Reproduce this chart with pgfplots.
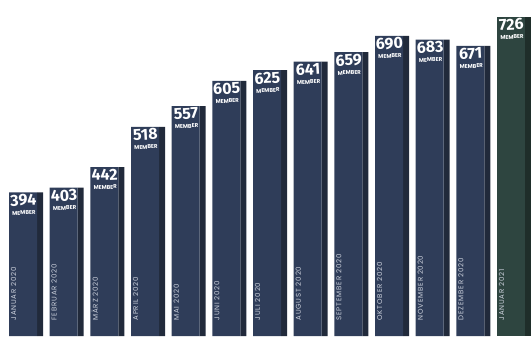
\documentclass[border=0pt]{standalone}
\usepackage{pgfplots}
\pgfplotsset{compat=1.18}
\usepackage{fontspec}
\setmainfont{Poppins}
\newfontfamily\numfont{Fira Sans}
\definecolor{front}{HTML}{2F3D59}
\definecolor{side}{HTML}{212A3B}
\definecolor{gfront}{HTML}{2E4540}
\definecolor{gside}{HTML}{1F2E2A}
\definecolor{monthtxt}{HTML}{CDD2DD}
\begin{document}
\begin{tikzpicture}
\begin{axis}[
  scale only axis,
  width=531pt, height=336pt,
  xmin=-0.5655, xmax=12.49,
  ymin=122.6, ymax=757.7,
  axis on top,
  /pgf/number format/assume math mode=true,
  axis line style={draw=none},
  tick style={draw=none},
  ytick=\empty,
  xtick={0,...,12},
  xticklabels={JANUAR 2020,FEBRUAR 2020,MÄRZ 2020,APRIL 2020,MAI 2020,JUNI 2020,JULI 2020,AUGUST 2020,SEPTEMBER 2020,OKTOBER 2020,NOVEMBER 2020,DEZEMBER 2020,JANUAR 2021},
  xticklabel style={font=\fontsize{7}{7}\selectfont\addfontfeatures{LetterSpace=12}, text=monthtxt, xshift=-9.5pt, yshift=12pt, rotate=90, anchor=west},
  every node near coord/.append style={anchor=north, yshift=-2pt, rotate=3, text=white, align=center, inner sep=0pt},
  nodes near coords={{\numfont\fontsize{16}{15}\selectfont\bfseries\pgfmathprintnumber{\pgfplotspointmeta}}\\[-3pt]{\fontsize{5.5}{6}\selectfont\bfseries MEMBER}},
]
% side faces
\addplot[ybar, bar width=6pt, bar shift=17pt, fill=side, draw=none, nodes near coords={}] coordinates {
(0,394) (1,403) (2,442) (3,518) (4,557) (5,605) (6,625) (7,641) (8,659) (9,690) (10,683) (11,671)};
\addplot[ybar, bar width=6pt, bar shift=17pt, fill=gside, draw=none, nodes near coords={}] coordinates {(12,726)};
% front faces
\addplot[ybar, bar width=28pt, bar shift=0pt, fill=front, draw=none] coordinates {
(0,394) (1,403) (2,442) (3,518) (4,557) (5,605) (6,625) (7,641) (8,659) (9,690) (10,683) (11,671)};
\addplot[ybar, bar width=28pt, bar shift=0pt, fill=gfront, draw=none] coordinates {(12,726)};
\end{axis}
\end{tikzpicture}
\end{document}
